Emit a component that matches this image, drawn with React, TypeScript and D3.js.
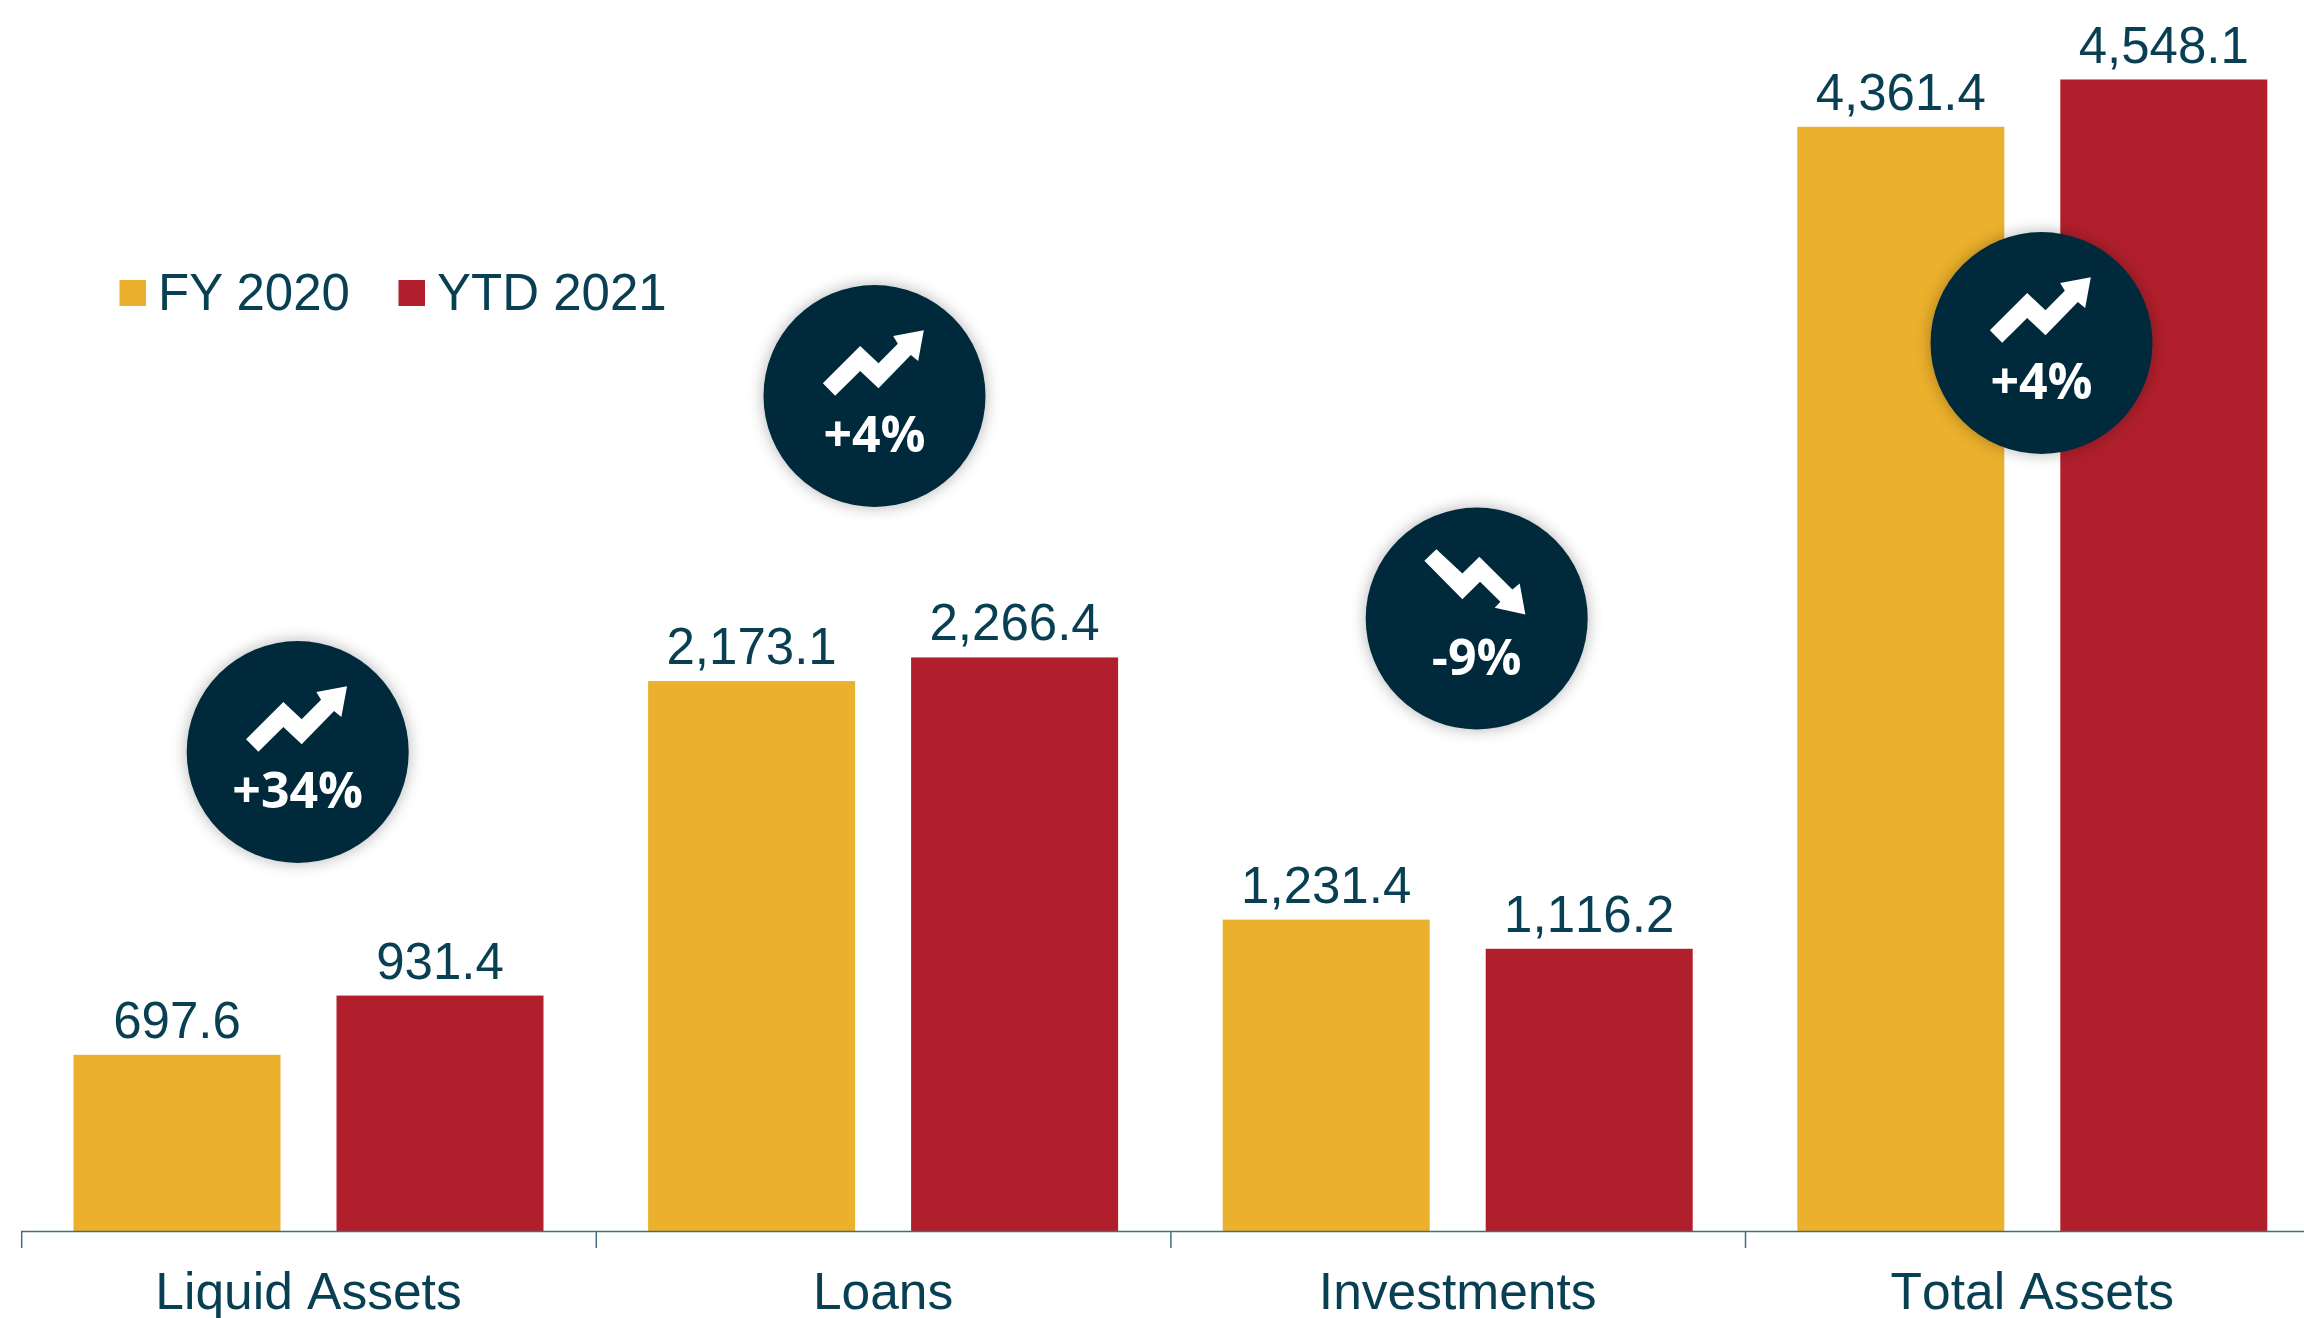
import React from "react";
import * as d3 from "d3";

const categories = ["Liquid Assets", "Loans", "Investments", "Total Assets"];
const seriesNames = ["FY 2020", "YTD 2021"];
const fy2020 = [697.6, 2173.1, 1231.4, 4361.4];
const ytd2021 = [931.4, 2266.4, 1116.2, 4548.1];
const changes = ["+34%", "+4%", "-9%", "+4%"];
const colors = ["#ebb02c", "#b01f2b"];
const textColor = "#083f52";
const badgeColor = "#062b3b";
const axisColor = "#3f6f7f";
const sans = "'Liberation Sans', Arial, sans-serif";
const badgeFont = "'Open Sans', 'Noto Sans', sans-serif";

const W = 2304, H = 1318;
const baseY = 1231.5;
const x0 = d3.scaleBand<string>().domain(categories).range([21.2, 21.2 + 574.6 * 4]);
const x1 = d3.scaleBand<string>().domain(seriesNames).range([52.3, 52.3 + 470]).paddingInner(56 / 263).paddingOuter(0);
const y = d3.scaleLinear().domain([0, 4548.1]).range([baseY, 79.5]);

const badgeCentres: [number, number][] = [[297.7, 752], [874.5, 396], [1476.7, 618.5], [2041.5, 343]];
const upArrow: [number, number][] = [[-155,-38],[-43,-150],[12,-98],[70,-157],[56,-180],[148,-197],[131,-105],[109,-123],[12,-23],[-43,-75],[-118,-1]];
const downArrow: [number, number][] = [[-157,-173],[-121,-208],[-43,-135],[8,-185],[107,-87],[129,-105],[146,-12],[54,-32],[71,-50],[10,-110],[-43,-58]];
const line = d3.line<[number, number]>().x(d => d[0] / 3).y(d => d[1] / 3).curve(d3.curveLinearClosed);

export default function App() {
  return (
    <svg width={W} height={H} viewBox={`0 0 ${W} ${H}`} style={{ position: "absolute", left: 0, top: 0, background: "#fff" }}>
      <defs>
        <filter id="soft" x="-30%" y="-30%" width="160%" height="160%">
          <feGaussianBlur in="SourceAlpha" stdDeviation="8" />
          <feComponentTransfer><feFuncA type="linear" slope="0.3" /></feComponentTransfer>
          <feMerge><feMergeNode /><feMergeNode in="SourceGraphic" /></feMerge>
        </filter>
      </defs>
      {categories.map((c, i) => (
        <g key={c} transform={`translate(${x0(c)},0)`}>
          {[fy2020[i], ytd2021[i]].map((v, s) => (
            <g key={s}>
              <rect x={x1(seriesNames[s])} y={y(v)} width={x1.bandwidth()} height={baseY - y(v)} fill={colors[s]} />
              <text x={x1(seriesNames[s])! + x1.bandwidth() / 2} y={y(v) - 17} textAnchor="middle" fontFamily={sans} fontSize={51} style={{ fontKerning: "none" }} fill={textColor}>
                {d3.format(",.1f")(v)}
              </text>
            </g>
          ))}
          <text x={x0.bandwidth() / 2} y={1309} textAnchor="middle" fontFamily={sans} fontSize={51.5} style={{ fontKerning: "none" }} fill={textColor}>{c}</text>
          <line x1={0.5} x2={0.5} y1={baseY} y2={1248} stroke={axisColor} strokeWidth={1.5} />
        </g>
      ))}
      <line x1={21} x2={W} y1={baseY} y2={baseY} stroke={axisColor} strokeWidth={1.5} />
      {seriesNames.map((s, i) => {
        const lx = [119.5, 398.5][i];
        return (
          <g key={s}>
            <rect x={lx} y={280} width={26.5} height={26} fill={colors[i]} />
            <text x={lx + 38.5} y={310} fontFamily={sans} fontSize={51} fill={textColor}>{s}</text>
          </g>
        );
      })}
      {changes.map((t, i) => {
        const [cx, cy] = badgeCentres[i];
        return (
          <g key={i} transform={`translate(${cx},${cy})`}>
            <circle r={111} fill={badgeColor} filter="url(#soft)" />
            <path d={line(t.startsWith("-") ? downArrow : upArrow) ?? ""} fill="#fff" />
            <text y={56} textAnchor="middle" fontFamily={badgeFont} fontWeight={700} fontSize={50} fill="#fff">{t}</text>
          </g>
        );
      })}
    </svg>
  );
}
